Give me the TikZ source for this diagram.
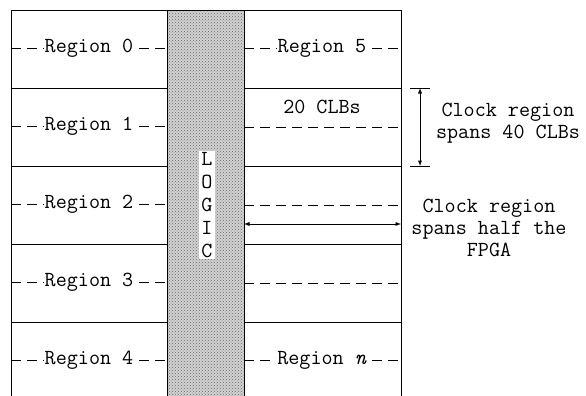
\documentclass[tikz,border=0pt]{standalone}
\usepackage{fontspec}
\usetikzlibrary{patterns,arrows,positioning}
\tikzset{>=latex}
\tikzset{font=\ttfamily\fontsize{21.5}{22}\selectfont}
\tikzset{regionlabel/.style={fill=white, inner sep=1pt}}
\tikzset{cutline/.style={dash pattern=on 10pt off 6pt}}
\begin{document}
\begin{tikzpicture}[x=1pt, y=-1pt, line width=0.9pt]
                \useasboundingbox (0,0) rectangle (586,396);%
                % logic column
                \fill[gray!35] (167,10) rectangle (244,396);%
                \fill[pattern=crosshatch dots, pattern color=gray!80!black] (167,10) rectangle (244,396);%
                \draw (11,396) -- (11,10) -- (401,10) -- (401,396);%
                \draw (167,10) -- (167,396);%
                \draw (244,10) -- (244,396);%
                % row borders
                \foreach \y in {88,166,244,322} {%
                  \draw (11,\y) -- (167,\y);%
                  \draw (244,\y) -- (401,\y);%
                }%
                % regions on the left
                \foreach \i/\y in {0/48,1/126,2/204,3/282,4/360} {%
                  \draw[cutline] (11,\y) -- (167,\y);%
                  \node[regionlabel] (left\i) at (89,\y) {Region \i};%
                }%
                % regions on the right
                \draw[cutline] (244,48) -- (401,48);%
                \node[regionlabel] (right5) at (322,48) {Region 5};%
                \foreach \y in {127,205,283} {%
                  \draw[cutline] (244,\y) -- (401,\y);%
                }%
                \draw[cutline] (244,360) -- (401,360);%
                \node[regionlabel] (rightn) at (322,360) {Region \textit{n}};%
                \node (clbs) at (322,107) {20 CLBs};%
                % logic label
                \node[fill=white, inner xsep=2pt, inner ysep=1pt, align=center,
                  font=\ttfamily\fontsize{21.5}{23}\selectfont] (logic) at (207,205) {L\\O\\G\\I\\C};%
                % clock region height
                \coordinate (vtop) at (420,88);%
                \coordinate (vbot) at (420,166);%
                \draw (410,88) -- (430,88);%
                \draw (410,166) -- (430,166);%
                \draw[<->] (vtop) -- (vbot);%
                \node[align=center] (span40) at (508,123) {Clock region\\spans 40 CLBs};%
                % clock region width
                \coordinate (hleft) at (244,224);%
                \coordinate (hright) at (401,224);%
                \draw[<->] (hleft) -- (hright);%
                \node[align=center] (spanhalf) at (489,228) {Clock region\\spans half the\\FPGA};%
              \end{tikzpicture}
\end{document}
